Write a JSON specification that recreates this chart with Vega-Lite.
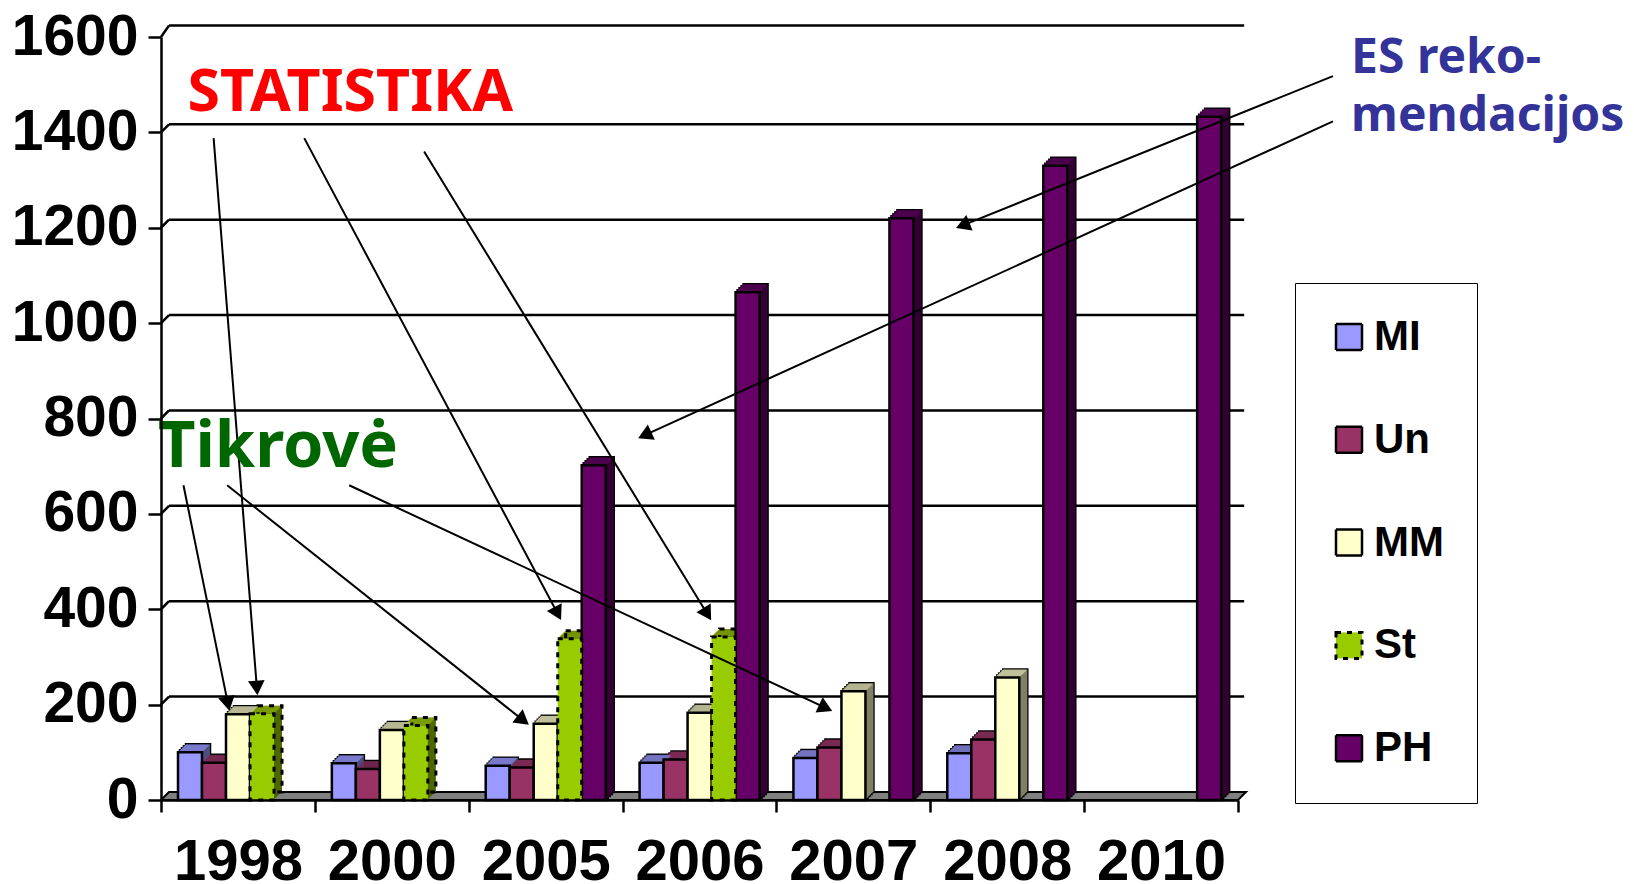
{"$schema":"https://vega.github.io/schema/vega-lite/v6.json","width":1077,"height":763,"autosize":{"type":"none"},"padding":{"left":161,"top":37,"right":396,"bottom":84},"background":"white","view":{"stroke":null},
"datasets":{
"bars":[
{"year":"1998","series":"MI","value":100},{"year":"1998","series":"Un","value":78},{"year":"1998","series":"MM","value":180},{"year":"1998","series":"St","value":181},
{"year":"2000","series":"MI","value":77},{"year":"2000","series":"Un","value":65},{"year":"2000","series":"MM","value":147},{"year":"2000","series":"St","value":156},
{"year":"2005","series":"MI","value":72},{"year":"2005","series":"Un","value":68},{"year":"2005","series":"MM","value":160},{"year":"2005","series":"St","value":338},{"year":"2005","series":"PH","value":702},
{"year":"2006","series":"MI","value":78},{"year":"2006","series":"Un","value":85},{"year":"2006","series":"MM","value":183},{"year":"2006","series":"St","value":342},{"year":"2006","series":"PH","value":1065},
{"year":"2007","series":"MI","value":88},{"year":"2007","series":"Un","value":110},{"year":"2007","series":"MM","value":228},{"year":"2007","series":"PH","value":1220},
{"year":"2008","series":"MI","value":98},{"year":"2008","series":"Un","value":127},{"year":"2008","series":"MM","value":257},{"year":"2008","series":"PH","value":1330},
{"year":"2010","series":"PH","value":1433}],
"grid":[{"v":200,"back":216.8},{"v":400,"back":416.8},{"v":600,"back":616.8},{"v":800,"back":816.8},{"v":1000,"back":1016.8},{"v":1200,"back":1216.8},{"v":1400,"back":1416.8},{"v":1600,"back":1624}],
"floor":[{"slot":0,"low":0,"high":0},{"slot":0.052,"low":0,"high":16.8},{"slot":7,"low":0,"high":16.8},{"slot":7.052,"low":16.8,"high":16.8}],
"arrows":[
{"tx":0.342,"tv":1388,"hx":0.623,"hv":235,"heading":175.5},
{"tx":0.931,"tv":1388,"hx":2.578,"hv":391,"heading":152},
{"tx":1.71,"tv":1360,"hx":3.551,"hv":390,"heading":148.5},
{"tx":0.146,"tv":660,"hx":0.435,"hv":202,"heading":168.5},
{"tx":0.43,"tv":660,"hx":2.354,"hv":167,"heading":128.5},
{"tx":1.223,"tv":660,"hx":4.32,"hv":193,"heading":115.1},
{"tx":7.617,"tv":1518,"hx":5.211,"hv":1205,"heading":248},
{"tx":7.617,"tv":1423,"hx":3.144,"hv":765,"heading":245.5}]
},
"layer":[
{"layer":[
{"data":{"name":"grid"},"mark":{"type":"rule","stroke":"black","strokeWidth":2.5},"encoding":{"x":{"datum":0.052,"type":"quantitative","scale":{"domain":[0,7],"nice":false,"zero":false},"axis":null},"x2":{"datum":7.04},"y":{"field":"back","type":"quantitative","scale":{"domain":[0,1600],"nice":false},"axis":null}}},
{"data":{"name":"grid"},"mark":{"type":"rule","stroke":"black","strokeWidth":2.5},"encoding":{"x":{"datum":0,"type":"quantitative","scale":{"domain":[0,7],"nice":false,"zero":false},"axis":null},"x2":{"datum":0.052},"y":{"field":"v","type":"quantitative","scale":{"domain":[0,1600],"nice":false},"axis":null},"y2":{"field":"back"}}},
{"data":{"name":"floor"},"mark":{"type":"area","orient":"vertical","fill":"#808080","stroke":"black","strokeWidth":2},"encoding":{"x":{"field":"slot","type":"quantitative","scale":{"domain":[0,7],"nice":false,"zero":false},"axis":null},"y":{"field":"low","type":"quantitative","scale":{"domain":[0,1600],"nice":false},"axis":null},"y2":{"field":"high"}}}
]},
{"data":{"name":"bars"},
"mark":{"type":"tick","opacity":0},
"encoding":{
"x":{"field":"year","type":"nominal","title":null,"scale":{"domain":["1998","2000","2005","2006","2007","2008","2010"],"paddingInner":0,"paddingOuter":0},"axis":{"tickBand":"extent","labelAngle":0,"labelFont":"Liberation Sans","labelFontWeight":"bold","labelFontSize":58,"labelColor":"black","labelPadding":21,"tickSize":12,"tickWidth":2.5,"tickColor":"black","domainColor":"black","domainWidth":2.5,"grid":false,"zindex":1}},
"y":{"field":"value","type":"quantitative","title":null,"scale":{"domain":[0,1600],"nice":false},"axis":{"values":[0,200,400,600,800,1000,1200,1400,1600],"format":"d","grid":false,"labelFont":"Liberation Sans","labelFontWeight":"bold","labelFontSize":57,"labelColor":"black","labelPadding":10,"tickSize":13,"tickWidth":2.5,"tickColor":"black","domainColor":"black","domainWidth":2.5,"zindex":1}}
}},
{"data":{"name":"bars"},
"transform":[
{"calculate":"indexof(['1998','2000','2005','2006','2007','2008','2010'],datum.year)+0.1105+indexof(['MI','Un','MM','St','PH'],datum.series)*0.156","as":"left"},
{"calculate":"datum.left+0.156","as":"right"}],
"encoding":{
"x":{"field":"left","type":"quantitative","scale":{"domain":[0,7],"nice":false,"zero":false},"axis":null},
"x2":{"field":"right"},
"y":{"field":"value","type":"quantitative","scale":{"domain":[0,1600],"nice":false},"axis":null}
},
"resolve":{"scale":{"fill":"independent","stroke":"independent"}},
"layer":[
{"transform":[{"filter":"datum.series !== 'St'"}],"encoding":{"y2":{"datum":0}},"layer":[
{"mark":{"type":"rect","fill":"black","stroke":"black","strokeWidth":2.5,"xOffset":2,"x2Offset":2,"yOffset":-2,"y2Offset":-2}},
{"mark":{"type":"rect","fill":"black","stroke":"black","strokeWidth":2.5,"xOffset":4,"x2Offset":4,"yOffset":-4,"y2Offset":-4}},
{"mark":{"type":"rect","fill":"black","stroke":"black","strokeWidth":2.5,"xOffset":6,"x2Offset":6,"yOffset":-6,"y2Offset":-6}},
{"mark":{"type":"rect","fill":"black","stroke":"black","strokeWidth":2.5,"xOffset":8,"x2Offset":8,"yOffset":-8,"y2Offset":-8}}
]},
{"encoding":{"y2":{"datum":0},"fill":{"field":"series","type":"nominal","legend":null,"scale":{"domain":["MI","Un","MM","St","PH"],"range":["#4d4d80","#4d1a33","#808066","#4d6600","#330033"]}}},"layer":[
{"mark":{"type":"rect","xOffset":1,"x2Offset":1,"yOffset":-1,"y2Offset":-1}},
{"mark":{"type":"rect","xOffset":2,"x2Offset":2,"yOffset":-2,"y2Offset":-2}},
{"mark":{"type":"rect","xOffset":3,"x2Offset":3,"yOffset":-3,"y2Offset":-3}},
{"mark":{"type":"rect","xOffset":4,"x2Offset":4,"yOffset":-4,"y2Offset":-4}},
{"mark":{"type":"rect","xOffset":5,"x2Offset":5,"yOffset":-5,"y2Offset":-5}},
{"mark":{"type":"rect","xOffset":6,"x2Offset":6,"yOffset":-6,"y2Offset":-6}},
{"mark":{"type":"rect","xOffset":7,"x2Offset":7,"yOffset":-7,"y2Offset":-7}},
{"mark":{"type":"rect","xOffset":8,"x2Offset":8,"yOffset":-8,"y2Offset":-8}}
]},
{"encoding":{"y2":{"field":"value"},"stroke":{"field":"series","type":"nominal","legend":null,"scale":{"domain":["MI","Un","MM","St","PH"],"range":["#7a7acc","#7a2952","#c0c09a","#7a9a00","#520052"]}}},"layer":[
{"mark":{"type":"rect","fill":null,"strokeWidth":1.2,"xOffset":1,"x2Offset":1,"yOffset":-1,"y2Offset":-1}},
{"mark":{"type":"rect","fill":null,"strokeWidth":1.2,"xOffset":2,"x2Offset":2,"yOffset":-2,"y2Offset":-2}},
{"mark":{"type":"rect","fill":null,"strokeWidth":1.2,"xOffset":3,"x2Offset":3,"yOffset":-3,"y2Offset":-3}},
{"mark":{"type":"rect","fill":null,"strokeWidth":1.2,"xOffset":4,"x2Offset":4,"yOffset":-4,"y2Offset":-4}},
{"mark":{"type":"rect","fill":null,"strokeWidth":1.2,"xOffset":5,"x2Offset":5,"yOffset":-5,"y2Offset":-5}},
{"mark":{"type":"rect","fill":null,"strokeWidth":1.2,"xOffset":6,"x2Offset":6,"yOffset":-6,"y2Offset":-6}},
{"mark":{"type":"rect","fill":null,"strokeWidth":1.2,"xOffset":7,"x2Offset":7,"yOffset":-7,"y2Offset":-7}}
]},
{"transform":[{"filter":"datum.series === 'St'"}],"encoding":{"y2":{"datum":0}},"mark":{"type":"rect","fill":null,"stroke":"black","strokeWidth":3,"strokeDash":[5,6],"xOffset":8,"x2Offset":8,"yOffset":-8,"y2Offset":-8}},
{"encoding":{"y2":{"datum":0},"fill":{"field":"series","type":"nominal","legend":{"orient":"none","legendX":1134,"legendY":246,"title":null,"strokeColor":"black","padding":33,"rowPadding":60.8,"symbolType":"square","symbolSize":676,"symbolStrokeColor":"black","symbolStrokeWidth":2.5,"symbolOpacity":1,"labelFont":"Liberation Sans","labelFontWeight":"bold","labelFontSize":42,"labelColor":"black","labelOffset":4,"labelLimit":200,"encode":{"symbols":{"update":{"strokeDash":{"signal":"datum.value === 'St' ? [5,6] : [1,0]"},"strokeWidth":{"signal":"datum.value === 'St' ? 3 : 2.5"}}}}},"scale":{"domain":["MI","Un","MM","St","PH"],"range":["#9999ff","#993366","#ffffcc","#99cc00","#660066"]}}},"layer":[
{"transform":[{"filter":"datum.series !== 'St'"}],"mark":{"type":"rect","stroke":"black","strokeWidth":2.5}},
{"transform":[{"filter":"datum.series === 'St'"}],"mark":{"type":"rect","stroke":"black","strokeWidth":3,"strokeDash":[5,6]}}
]}
]},
{"layer":[
{"data":{"name":"arrows"},"mark":{"type":"rule","stroke":"black","strokeWidth":2},"encoding":{"x":{"field":"tx","type":"quantitative","scale":{"domain":[0,7],"nice":false,"zero":false},"axis":null},"x2":{"field":"hx"},"y":{"field":"tv","type":"quantitative","scale":{"domain":[0,1600],"nice":false},"axis":null},"y2":{"field":"hv"}}},
{"data":{"name":"arrows"},"mark":{"type":"point","shape":"triangle-up","filled":true,"fill":"black","opacity":1,"size":280},"encoding":{"x":{"field":"hx","type":"quantitative","scale":{"domain":[0,7],"nice":false,"zero":false},"axis":null},"y":{"field":"hv","type":"quantitative","scale":{"domain":[0,1600],"nice":false},"axis":null},"angle":{"field":"heading","type":"quantitative","scale":null}}},
{"data":{"values":[{"label":"STATISTIKA","slot":0.172,"val":1445}]},"mark":{"type":"text","align":"left","baseline":"alphabetic","font":"Noto Sans","fontWeight":"bold","fontSize":59,"fill":"#ff0000"},"encoding":{"text":{"field":"label"},"x":{"field":"slot","type":"quantitative","scale":{"domain":[0,7],"nice":false,"zero":false},"axis":null},"y":{"field":"val","type":"quantitative","scale":{"domain":[0,1600],"nice":false},"axis":null}}},
{"data":{"values":[{"label":"Tikrovė","slot":-0.02,"val":698}]},"mark":{"type":"text","align":"left","baseline":"alphabetic","font":"Noto Sans","fontWeight":"bold","fontSize":65,"fill":"#006600"},"encoding":{"text":{"field":"label"},"x":{"field":"slot","type":"quantitative","scale":{"domain":[0,7],"nice":false,"zero":false},"axis":null},"y":{"field":"val","type":"quantitative","scale":{"domain":[0,1600],"nice":false},"axis":null}}},
{"data":{"values":[{"label":"ES reko-","slot":7.735,"val":1525},{"label":"mendacijos","slot":7.735,"val":1402}]},"mark":{"type":"text","align":"left","baseline":"alphabetic","font":"Noto Sans","fontWeight":"bold","fontSize":48,"fill":"#333399"},"encoding":{"text":{"field":"label"},"x":{"field":"slot","type":"quantitative","scale":{"domain":[0,7],"nice":false,"zero":false},"axis":null},"y":{"field":"val","type":"quantitative","scale":{"domain":[0,1600],"nice":false},"axis":null}}}
]}
],
"resolve":{"scale":{"x":"independent"},"axis":{"y":"independent"}}
}
